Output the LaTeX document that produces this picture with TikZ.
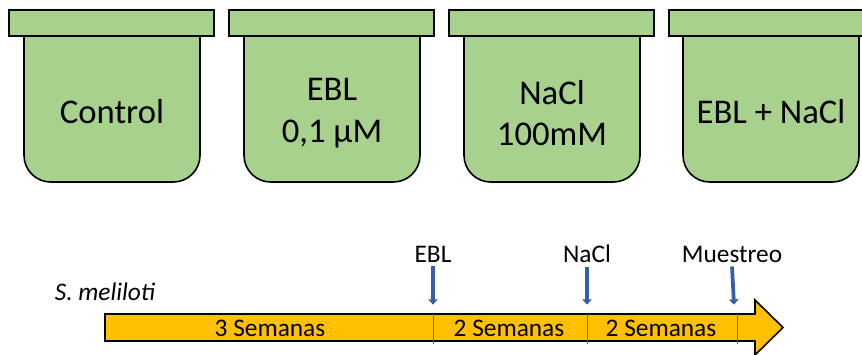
\documentclass[tikz,border=0pt]{standalone}
\usepackage{fontspec}
\setmainfont{Carlito}
\usetikzlibrary{arrows.meta}

\begin{document}
\begin{tikzpicture}[
    x=0.75pt, y=-0.75pt,
    potbody/.style = {draw=black, line width=1.2pt, fill=potgreen,
                      rounded corners=20pt},
    potrim/.style  = {draw=black, line width=1.2pt, fill=potgreen},
    potlabel/.style= {font=\fontsize{26}{31}\selectfont, align=center,
                      inner sep=0pt},
    bar/.style     = {draw=black, line width=1.2pt, fill=baryellow,
                      line join=miter},
    divider/.style = {draw=divbrown, line width=0.6pt},
    seglabel/.style= {font=\fontsize{19}{22}\selectfont, inner sep=0pt},
    evlabel/.style = {font=\fontsize{19}{22}\selectfont, inner sep=1pt},
    marker/.style  = {-{Triangle[length=4pt, width=7pt]}, line width=2.8pt,
                      draw=markblue},
]
\definecolor{potgreen}{HTML}{A9D18E}
\definecolor{baryellow}{HTML}{FFC000}
\definecolor{divbrown}{HTML}{7F6000}
\definecolor{markblue}{HTML}{3560A8}

\useasboundingbox (0,0) rectangle (862,354);
\clip (0,0) rectangle (862,354);

%% Pots
\draw[potbody] (24,36)  -- (24,182)  -- (200,182) -- (200,36);
\draw[potrim]  (9,10)   rectangle (214,36);
\draw[potbody] (244,36) -- (244,182) -- (420,182) -- (420,36);
\draw[potrim]  (229,10) rectangle (434,36);
\draw[potbody] (464,36) -- (464,182) -- (640,182) -- (640,36);
\draw[potrim]  (449,10) rectangle (654,36);
\draw[potbody] (683,36) -- (683,182) -- (859,182) -- (859,36);
\draw[potrim]  (669,10) rectangle (874,36);

\node[potlabel] (ctrl) at (112,112) {Control};
\node[potlabel] (ebl)  at (332,113) {EBL\\0,1 µM};
\node[potlabel] (nacl) at (552,113) {NaCl\\100mM};
\node[potlabel] (both) at (771,112) {EBL + NaCl};

%% Timeline
\draw[bar] (105,314) -- (755,314) -- (755,300) -- (783,327.5)
    -- (755,355) -- (755,341) -- (105,341) -- cycle;

\coordinate (s1) at (433,314);
\coordinate (s2) at (587,314);
\coordinate (s3) at (737,314);
\coordinate (m3) at (734,314);
\draw[divider] (s1) -- ++(0,30);
\draw[divider] (s2) -- ++(0,30);
\draw[divider] (s3) -- ++(0,30);

\node[seglabel] (w3)  at (270,328) {3 Semanas};
\node[seglabel] (w2a) at (509,328) {2 Semanas};
\node[seglabel] (w2b) at (661,328) {2 Semanas};

%% Events
\node[evlabel] (eebl)  at (433,254) {EBL};
\node[evlabel] (enacl) at (587,254) {NaCl};
\node[evlabel] (emue)  at (732,254) {Muestreo};
\draw[marker] ([yshift=-2pt]eebl.south)  -- ([yshift=7pt]s1);
\draw[marker] ([yshift=-2pt]enacl.south) -- ([yshift=7pt]s2);
\draw[marker] ([yshift=-2pt]emue.south)  -- ([yshift=7pt]m3);

\node[evlabel, font=\fontsize{19}{22}\selectfont\itshape] (bact)
    at (105,292) {S. meliloti};

\end{tikzpicture}
\end{document}
